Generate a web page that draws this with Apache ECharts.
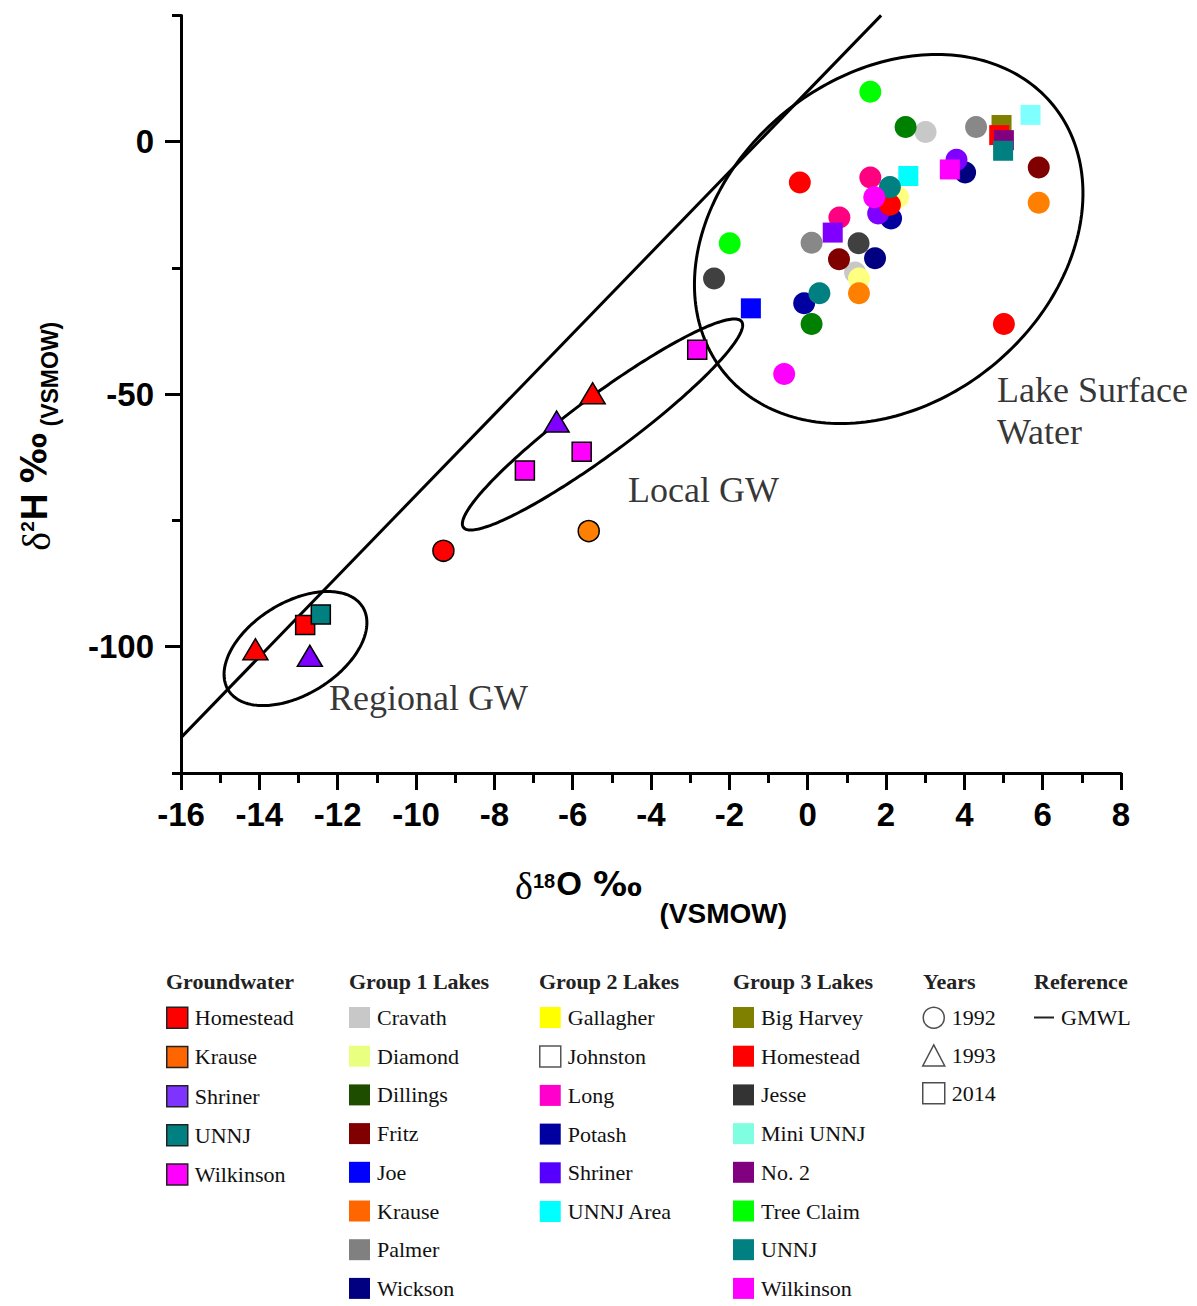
<!DOCTYPE html>
<html>
<head>
<meta charset="utf-8">
<script src="https://cdn.jsdelivr.net/npm/echarts@6/dist/echarts.min.js"></script>
<style>
html,body{margin:0;padding:0;background:#fff;}
#chart{width:1197px;height:1306px;}
</style>
</head>
<body>
<div id="chart"></div>
<script>
// ---------------- DATA ----------------
const xTickValues = [-16, -14, -12, -10, -8, -6, -4, -2, 0, 2, 4, 6, 8];
const yTickLabels = [-100, -50, 0];

const groundwaterLakes = ['Homestead', 'Krause', 'Shriner', 'UNNJ', 'Wilkinson'];
const group1Lakes = ['Cravath', 'Diamond', 'Dillings', 'Fritz', 'Joe', 'Krause', 'Palmer', 'Wickson'];
const group2Lakes = ['Gallagher', 'Johnston', 'Long', 'Potash', 'Shriner', 'UNNJ Area'];
const group3Lakes = ['Big Harvey', 'Homestead', 'Jesse', 'Mini UNNJ', 'No. 2', 'Tree Claim', 'UNNJ', 'Wilkinson'];
const sampleYears = [1992, 1993, 2014];

// samples: [lake, δ18O, δ2H, year]
const groundwaterSamples = [
  ['Homestead', -14.1, -100.5, 1993],
  ['Homestead', -12.83, -95.7, 2014],
  ['Homestead', -9.3, -81.0, 1992],
  ['Homestead', -5.49, -49.8, 1993],
  ['Krause', -5.59, -77.1, 1992],
  ['Shriner', -12.71, -101.8, 1993],
  ['Shriner', -6.41, -55.4, 1993],
  ['UNNJ', -12.43, -93.6, 2014],
  ['Wilkinson', -7.22, -65.1, 2014],
  ['Wilkinson', -5.77, -61.4, 2014],
  ['Wilkinson', -2.82, -41.2, 2014]
];
const group1Samples = [
  ['Cravath', 3.01, 1.9, 1992], ['Cravath', 1.21, -25.9, 1992],
  ['Diamond', 2.31, -11.0, 1992], ['Diamond', 1.31, -27.1, 1992],
  ['Dillings', 2.5, 2.9, 1992], ['Dillings', 0.1, -36.1, 1992],
  ['Fritz', 5.9, -5.1, 1992], ['Fritz', 0.8, -23.3, 1992],
  ['Joe', -1.45, -33.0, 2014],
  ['Krause', 5.9, -12.1, 1992], ['Krause', 1.31, -30.0, 1992],
  ['Palmer', 4.3, 2.9, 1992], ['Palmer', 0.1, -20.0, 1992],
  ['Wickson', 4.02, -6.1, 1992], ['Wickson', 1.72, -23.1, 1992]
];
const group2Samples = [
  ['Long', 1.6, -7.1, 1992], ['Long', 0.81, -15.0, 1992],
  ['Potash', 2.13, -15.2, 1992], ['Potash', -0.09, -32.0, 1992],
  ['Shriner', 3.8, -3.6, 1992], ['Shriner', 1.8, -14.2, 1992], ['Shriner', 0.64, -18.0, 2014],
  ['UNNJ Area', 2.57, -6.8, 2014]
];
const group3Samples = [
  ['Big Harvey', 4.95, 3.3, 2014],
  ['Homestead', 4.89, 1.3, 2014], ['Homestead', -0.2, -8.1, 1992], ['Homestead', 2.1, -12.5, 1992], ['Homestead', 5.01, -36.1, 1992],
  ['Jesse', 1.3, -20.1, 1992], ['Jesse', -2.39, -27.1, 1992],
  ['Mini UNNJ', 5.69, 5.3, 2014],
  ['No. 2', 5.01, 0.3, 2014],
  ['Tree Claim', 1.6, 9.9, 1992], ['Tree Claim', -1.99, -20.1, 1992],
  ['UNNJ', 4.99, -1.8, 2014], ['UNNJ', 2.1, -9.0, 1992], ['UNNJ', 0.3, -30.0, 1992],
  ['Wilkinson', 3.63, -5.5, 2014], ['Wilkinson', 1.7, -11.0, 1992], ['Wilkinson', -0.6, -46.0, 1992]
];

// GMWL reference line endpoints (δ18O, δ2H)
const gmwlPoints = [[-16, -118], [1.875, 25]];

// grouping ellipses: [centre δ18O, centre δ2H, major-axis end δ18O, δ2H, minor-axis end δ18O, δ2H]
const ellipseNames = ['Regional GW', 'Local GW', 'Lake Surface Water'];
const ellipseGeometry = [
  [-13.077, -100.36, -11.361, -92.14, -12.459, -108.10],
  [-5.238, -56.00, -1.687, -35.62, -4.798, -60.61],
  [2.069, -19.27, 6.269, 7.21, 4.706, -44.44]
];
// annotation texts and anchor (δ18O, δ2H)
const annotationTexts = ['Regional GW', 'Local GW', 'Lake Surface\nWater'];
const annotationAnchors = [[-12.221, -110.16], [-4.587, -68.97], [4.834, -53.33]];

// ---------------- STYLE ----------------
const SANS = "'Liberation Sans', Arial, sans-serif";
const SERIF = "'Liberation Serif', 'Times New Roman', serif";

const gwColors = {'Homestead':'#ff0000','Krause':'#ff8000','Shriner':'#8000ff','UNNJ':'#008080','Wilkinson':'#ff00ff'};
const g1Colors = {'Cravath':'#c8c8c8','Diamond':'#ffff80','Dillings':'#008000','Fritz':'#800000','Joe':'#0000ff','Krause':'#ff8000','Palmer':'#888888','Wickson':'#000080'};
const g2Colors = {'Gallagher':'#ffff00','Johnston':'#ffffff','Long':'#ff0080','Potash':'#0000a0','Shriner':'#8000ff','UNNJ Area':'#00ffff'};
const g3Colors = {'Big Harvey':'#808000','Homestead':'#ff0000','Jesse':'#404040','Mini UNNJ':'#80ffff','No. 2':'#800080','Tree Claim':'#00ff00','UNNJ':'#008080','Wilkinson':'#ff00ff'};
// legend swatch colours as printed in the key
const legendSwatch = {
  'G1|Diamond':'#e8ff80','G1|Dillings':'#1f4d00','G1|Krause':'#ff6600','G1|Palmer':'#808080',
  'G2|Long':'#ff00cc','G2|Shriner':'#5500ff','GW|Krause':'#ff6600','GW|Shriner':'#7f33ff','G3|Jesse':'#333333','G3|Mini UNNJ':'#80ffe0'
};

const yearSymbol = {1992:'circle', 1993:'triangle', 2014:'rect'};
const lakeSize = {1992:22, 1993:[25,21], 2014:20};
const gwSize = {1992:21, 1993:[25,21], 2014:19};

// ---------------- BUILD ----------------
const series = [];

series.push({
  name: 'ellipses', type: 'custom', silent: true, z: 1,
  data: ellipseGeometry,
  encode: {x: [0, 2, 4], y: [1, 3, 5]},
  renderItem: function (params, api) {
    const c = api.coord([api.value(0), api.value(1)]);
    const m = api.coord([api.value(2), api.value(3)]);
    const n = api.coord([api.value(4), api.value(5)]);
    const ux = m[0] - c[0], uy = m[1] - c[1];
    const a = Math.hypot(ux, uy);
    const b = Math.hypot(n[0] - c[0], n[1] - c[1]);
    const px = -uy / a * b, py = ux / a * b;
    const pts = [];
    for (let i = 0; i < 240; i++) {
      const t = i / 240 * Math.PI * 2;
      pts.push([c[0] + ux * Math.cos(t) + px * Math.sin(t), c[1] + uy * Math.cos(t) + py * Math.sin(t)]);
    }
    return {type: 'polygon', shape: {points: pts}, style: {fill: 'none', stroke: '#000', lineWidth: 3}};
  }
});

series.push({
  name: 'GMWL', type: 'line', data: gmwlPoints, symbol: 'none', silent: true, z: 1,
  lineStyle: {color: '#000', width: 3}, itemStyle: {color: '#000'}
});

function lakeSeries(prefix, lakes, samples, colors, isGW) {
  lakes.forEach(function (lake) {
    const pts = samples.filter(s => s[0] === lake).map(s => [s[1], s[2], s[3]]);
    const border = isGW ? {borderColor: '#000', borderWidth: 1.5} :
      (lake === 'Johnston' ? {borderColor: '#555', borderWidth: 1.5} : {borderWidth: 0});
    series.push({
      name: prefix + '|' + lake,
      type: 'scatter',
      z: isGW ? 4 : 3,
      data: pts,
      symbol: v => yearSymbol[v[2]],
      symbolSize: v => (isGW ? gwSize : lakeSize)[v[2]],
      itemStyle: Object.assign({color: colors[lake], opacity: 1}, border),
      emphasis: {disabled: true}
    });
  });
}
lakeSeries('G1', group1Lakes, group1Samples, g1Colors, false);
lakeSeries('G2', group2Lakes, group2Samples, g2Colors, false);
lakeSeries('G3', group3Lakes, group3Samples, g3Colors, false);
lakeSeries('GW', groundwaterLakes, groundwaterSamples, gwColors, true);

sampleYears.forEach(function (y) {
  series.push({name: 'Y|' + y, type: 'scatter', data: [], symbol: yearSymbol[y],
    itemStyle: {color: '#fff', borderColor: '#222', borderWidth: 1.5}});
});

series.push({
  name: 'annotations', type: 'scatter', silent: true, z: 5, symbolSize: 0,
  data: annotationTexts.map((t, i) => ({name: t, value: annotationAnchors[i]})),
  label: {show: true, position: 'right', distance: 0, formatter: p => p.name,
    fontFamily: SERIF, fontSize: 36, color: '#000', lineHeight: 42, align: 'left'}
});

// legends
const rowGap = 16.7;
const legendText = {fontFamily: SERIF, fontSize: 22, color: '#111', lineHeight: 21, padding: [0, 0, 0, 2]};
function legendFor(prefix, lakes, leftPx, gw) {
  return {
    orient: 'vertical', left: leftPx, top: 1006.5, height: 400, padding: 0,
    itemWidth: 21, itemHeight: 21, itemGap: rowGap, selectedMode: false,
    icon: 'rect',
    textStyle: legendText,
    formatter: n => n.split('|')[1],
    data: lakes.map(function (l) {
      const nm = prefix + '|' + l;
      const col = legendSwatch[nm] || ({GW: gwColors, G1: g1Colors, G2: g2Colors, G3: g3Colors}[prefix])[l];
      const st = {color: col, borderColor: gw ? '#222' : (l === 'Johnston' ? '#555' : col), borderWidth: gw || l === 'Johnston' ? 1.5 : 0};
      return {name: nm, icon: 'rect', itemStyle: st};
    })
  };
}
const legends = [
  legendFor('GW', groundwaterLakes, 166, true),
  legendFor('G1', group1Lakes, 349, false),
  legendFor('G2', group2Lakes, 539, false),
  legendFor('G3', group3Lakes, 733, false),
  {
    orient: 'vertical', left: 922, top: 1006.5, height: 400, padding: 0,
    itemWidth: 22, itemHeight: 21, itemGap: rowGap - 1.5, selectedMode: false,
    textStyle: legendText,
    formatter: n => n.split('|')[1],
    data: sampleYears.map(y => ({name: 'Y|' + y, icon: yearSymbol[y],
      itemStyle: {color: '#fff', borderColor: '#222', borderWidth: 1.5}}))
  },
  {
    orient: 'vertical', left: 1034, top: 1006.5, height: 400, padding: 0,
    itemWidth: 20, itemHeight: 2, selectedMode: false,
    textStyle: legendText,
    data: [{name: 'GMWL', icon: 'rect', itemStyle: {color: '#222'}}]
  }
];

const headerStyle = {fontFamily: SERIF, fontSize: 22, fontWeight: 'bold', color: '#222'};
const headers = [
  ['Groundwater', 166], ['Group 1 Lakes', 349], ['Group 2 Lakes', 539],
  ['Group 3 Lakes', 733], ['Years', 923], ['Reference', 1034]
].map(h => ({text: h[0], left: h[1], top: 970, padding: 0, textStyle: headerStyle}));

const option = {
  backgroundColor: '#fff',
  animation: false,
  title: headers,
  legend: legends,
  grid: {left: 181, right: 76, top: 15.4, bottom: 533, containLabel: false},
  xAxis: {
    type: 'value', min: -16, max: 8, interval: 2,
    name: '{d|δ}{sup|18}{b|O }{pm|‰}{sub|  (VSMOW)}',
    nameLocation: 'middle', nameGap: 94,
    nameTextStyle: {
      rich: {
        d: {fontFamily: SERIF, fontSize: 38, lineHeight: 36, verticalAlign: 'top', color: '#000'},
        sup: {fontFamily: SANS, fontSize: 20, fontWeight: 'bold', lineHeight: 19, verticalAlign: 'top', padding: [4, 1, 0, 0], color: '#000'},
        b: {fontFamily: SANS, fontSize: 33, fontWeight: 'bold', lineHeight: 36, verticalAlign: 'top', color: '#000'},
        pm: {fontFamily: "'DejaVu Sans', sans-serif", fontSize: 34, fontWeight: 'bold', lineHeight: 36, verticalAlign: 'top', padding: [0, 2, 0, 2], color: '#000'},
        sub: {fontFamily: SANS, fontSize: 28, fontWeight: 'bold', lineHeight: 28, verticalAlign: 'top', padding: [32, 0, 0, 0], color: '#000'}
      }
    },
    axisLine: {onZero: false, lineStyle: {color: '#000', width: 3}},
    axisTick: {length: 17, lineStyle: {color: '#000', width: 3}},
    minorTick: {show: true, splitNumber: 2, length: 10, lineStyle: {color: '#000', width: 3}},
    splitLine: {show: false},
    axisLabel: {margin: 25, fontFamily: SANS, fontSize: 33, fontWeight: 'bold', color: '#000',
      formatter: v => (xTickValues.indexOf(v) >= 0 ? String(v) : '')}
  },
  yAxis: [{
    type: 'value', min: -125, max: 25, interval: 25,
    name: '{d|δ}{sup|2}{b|H }{pm|‰}{sub| (VSMOW)}',
    nameLocation: 'middle', nameGap: 129, nameRotate: 90,
    nameTextStyle: {
      padding: [0, 84, 0, 0],
      rich: {
        d: {fontFamily: SERIF, fontSize: 40, lineHeight: 36, verticalAlign: 'top', color: '#000'},
        sup: {fontFamily: SANS, fontSize: 19, fontWeight: 'bold', lineHeight: 19, verticalAlign: 'top', padding: [2, 1, 0, 0], color: '#000'},
        b: {fontFamily: SANS, fontSize: 37, fontWeight: 'bold', lineHeight: 36, verticalAlign: 'top', color: '#000'},
        pm: {fontFamily: "'DejaVu Sans', sans-serif", fontSize: 35, fontWeight: 'bold', lineHeight: 36, verticalAlign: 'top', color: '#000'},
        sub: {fontFamily: SANS, fontSize: 23, fontWeight: 'bold', lineHeight: 23, verticalAlign: 'top', padding: [22, 0, 0, 0], color: '#000'}
      }
    },
    axisLine: {onZero: false, lineStyle: {color: '#000', width: 3}},
    axisTick: {length: 9, lineStyle: {color: '#000', width: 3}},
    splitLine: {show: false},
    axisLabel: {margin: 27, fontFamily: SANS, fontSize: 33, fontWeight: 'bold', color: '#000',
      formatter: v => (yTickLabels.indexOf(v) >= 0 ? String(v) : '')}
  }, {
    type: 'value', min: -125, max: 25, position: 'left',
    axisLine: {show: false, onZero: false},
    axisTick: {show: true, customValues: yTickLabels, length: 16, lineStyle: {color: '#000', width: 3}},
    axisLabel: {show: false},
    splitLine: {show: false}
  }],
  series: series
};

const chart = echarts.init(document.getElementById('chart'), null, {renderer: 'svg'});
chart.setOption(option);
</script>
</body>
</html>
